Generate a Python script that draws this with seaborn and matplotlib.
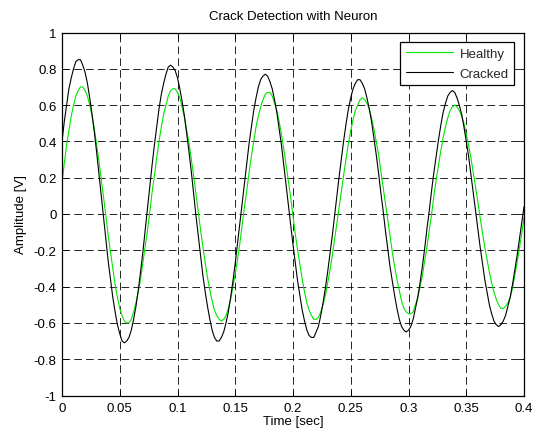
import numpy as np
import pandas as pd
import matplotlib
matplotlib.use("Agg")
import matplotlib.pyplot as plt
import seaborn as sns

# Sensor output sampled every 2 ms over 0 .. 0.4 s
SAMPLE_STEP = 0.002

healthy = [
    0.17, 0.28, 0.38, 0.46, 0.54, 0.60, 0.65, 0.68, 0.70, 0.70,
    0.68, 0.65, 0.60, 0.54, 0.47, 0.38, 0.29, 0.19, 0.09, -0.01,
    -0.12, -0.21, -0.30, -0.39, -0.46, -0.52, -0.56, -0.59, -0.60, -0.60,
    -0.58, -0.54, -0.49, -0.43, -0.36, -0.27, -0.18, -0.09, 0.01, 0.12,
    0.21, 0.31, 0.40, 0.48, 0.55, 0.60, 0.65, 0.68, 0.69, 0.69,
    0.67, 0.64, 0.59, 0.53, 0.46, 0.39, 0.30, 0.21, 0.11, 0.01,
    -0.09, -0.18, -0.27, -0.35, -0.42, -0.48, -0.53, -0.56, -0.58, -0.59,
    -0.58, -0.56, -0.52, -0.47, -0.40, -0.33, -0.25, -0.16, -0.06, 0.04,
    0.13, 0.23, 0.32, 0.40, 0.48, 0.54, 0.59, 0.63, 0.66, 0.67,
    0.67, 0.65, 0.61, 0.57, 0.51, 0.44, 0.36, 0.27, 0.18, 0.09,
    -0.01, -0.11, -0.20, -0.28, -0.36, -0.43, -0.49, -0.53, -0.56, -0.58,
    -0.58, -0.57, -0.54, -0.50, -0.45, -0.38, -0.31, -0.23, -0.14, -0.05,
    0.04, 0.13, 0.22, 0.31, 0.39, 0.46, 0.52, 0.57, 0.60, 0.63,
    0.64, 0.63, 0.61, 0.58, 0.53, 0.47, 0.40, 0.33, 0.24, 0.15,
    0.06, -0.03, -0.12, -0.21, -0.29, -0.36, -0.42, -0.48, -0.52, -0.54,
    -0.55, -0.55, -0.54, -0.50, -0.46, -0.40, -0.34, -0.26, -0.18, -0.09,
    0.00, 0.10, 0.19, 0.27, 0.35, 0.42, 0.48, 0.53, 0.57, 0.59,
    0.60, 0.59, 0.57, 0.54, 0.50, 0.44, 0.38, 0.31, 0.23, 0.15,
    0.07, -0.02, -0.10, -0.18, -0.25, -0.32, -0.38, -0.43, -0.47, -0.50,
    -0.52, -0.52, -0.51, -0.49, -0.46, -0.41, -0.34, -0.27, -0.19, -0.11,
    -0.02,
]

cracked = [
    0.40, 0.51, 0.60, 0.69, 0.75, 0.80, 0.84, 0.85, 0.85, 0.82,
    0.78, 0.72, 0.64, 0.55, 0.45, 0.34, 0.22, 0.10, -0.02, -0.14,
    -0.26, -0.36, -0.46, -0.54, -0.61, -0.66, -0.70, -0.71, -0.70, -0.68,
    -0.64, -0.58, -0.51, -0.42, -0.32, -0.21, -0.09, 0.03, 0.15, 0.27,
    0.38, 0.48, 0.58, 0.66, 0.72, 0.77, 0.81, 0.82, 0.81, 0.79,
    0.75, 0.69, 0.62, 0.54, 0.44, 0.34, 0.23, 0.11, -0.01, -0.12,
    -0.23, -0.34, -0.43, -0.51, -0.58, -0.64, -0.68, -0.70, -0.70, -0.68,
    -0.65, -0.60, -0.54, -0.46, -0.37, -0.27, -0.16, -0.05, 0.06, 0.17,
    0.28, 0.39, 0.48, 0.57, 0.64, 0.70, 0.74, 0.76, 0.77, 0.76,
    0.73, 0.69, 0.63, 0.56, 0.47, 0.38, 0.27, 0.16, 0.05, -0.06,
    -0.17, -0.27, -0.37, -0.45, -0.53, -0.59, -0.64, -0.67, -0.68, -0.68,
    -0.65, -0.62, -0.56, -0.49, -0.41, -0.32, -0.22, -0.12, -0.01, 0.10,
    0.21, 0.31, 0.41, 0.50, 0.58, 0.64, 0.69, 0.72, 0.74, 0.74,
    0.72, 0.69, 0.64, 0.58, 0.51, 0.42, 0.33, 0.23, 0.12, 0.02,
    -0.09, -0.19, -0.29, -0.37, -0.45, -0.52, -0.58, -0.62, -0.64, -0.65,
    -0.64, -0.62, -0.58, -0.52, -0.46, -0.38, -0.29, -0.19, -0.08, 0.02,
    0.13, 0.23, 0.32, 0.41, 0.49, 0.56, 0.61, 0.65, 0.67, 0.68,
    0.67, 0.64, 0.60, 0.55, 0.48, 0.40, 0.32, 0.22, 0.12, 0.02,
    -0.08, -0.18, -0.27, -0.36, -0.43, -0.50, -0.55, -0.59, -0.61, -0.62,
    -0.61, -0.59, -0.56, -0.51, -0.46, -0.39, -0.31, -0.23, -0.14, -0.05,
    0.04,
]

x_ticks = [0, 0.05, 0.1, 0.15, 0.2, 0.25, 0.3, 0.35, 0.4]
x_tick_labels = ["0", "0.05", "0.1", "0.15", "0.2", "0.25", "0.3", "0.35", "0.4"]
y_ticks = [-1, -0.8, -0.6, -0.4, -0.2, 0, 0.2, 0.4, 0.6, 0.8, 1]
y_tick_labels = ["-1", "-0.8", "-0.6", "-0.4", "-0.2", "0", "0.2", "0.4", "0.6", "0.8", "1"]

time = np.arange(len(healthy)) * SAMPLE_STEP

df = pd.DataFrame({
    "Time": np.concatenate([time, time]),
    "Amplitude": np.array(healthy + cracked),
    "Signal": ["Healthy"] * len(healthy) + ["Cracked"] * len(cracked),
})

sns.set_theme(style="ticks")
plt.rcParams["font.family"] = ["Liberation Sans", "DejaVu Sans"]
plt.rcParams["axes.unicode_minus"] = False
plt.rcParams["lines.scale_dashes"] = False
plt.rcParams["xtick.direction"] = "in"
plt.rcParams["ytick.direction"] = "in"

FS = 9.5

fig = plt.figure(figsize=(5.37, 4.31), dpi=100)
fig.patch.set_facecolor("white")
ax = fig.add_axes([62 / 537, 1 - 396.5 / 431, 462 / 537, 363 / 431])

sns.lineplot(
    data=df, x="Time", y="Amplitude", hue="Signal",
    hue_order=["Healthy", "Cracked"],
    palette={"Healthy": "#00e600", "Cracked": "black"},
    estimator=None, sort=False, linewidth=0.8, ax=ax,
)

ax.set_xlim(0, 0.4)
ax.set_ylim(-1, 1)
ax.set_xticks(x_ticks)
ax.set_xticklabels(x_tick_labels)
ax.set_yticks(y_ticks)
ax.set_yticklabels(y_tick_labels)
ax.tick_params(axis="both", which="both", direction="in", length=4, width=0.6,
               top=True, right=True, labelsize=FS, colors="black")
ax.tick_params(axis="x", pad=5)
ax.tick_params(axis="y", pad=4)

ax.grid(True, color="black", linestyle=(0, (5.5, 3)), linewidth=0.6)
for s in ax.spines.values():
    s.set_visible(True)
    s.set_color("black")
    s.set_linewidth(0.9)

ax.set_title("Crack Detection with Neuron", fontsize=FS, pad=10, color="black")
ax.set_xlabel("Time [sec]", fontsize=FS, labelpad=0.5, color="black")
ax.set_ylabel("Amplitude [V]", fontsize=FS, labelpad=5, color="black")

leg = ax.legend(loc="upper right", frameon=True, fancybox=False, framealpha=1,
                edgecolor="black", fontsize=FS, handlelength=3.6,
                handletextpad=0.5, labelspacing=0.6, borderpad=0.4,
                borderaxespad=0.75)
leg.get_frame().set_linewidth(0.9)
for line in leg.get_lines():
    line.set_linewidth(0.8)

fig.savefig("out.png", dpi=100, facecolor="white")
